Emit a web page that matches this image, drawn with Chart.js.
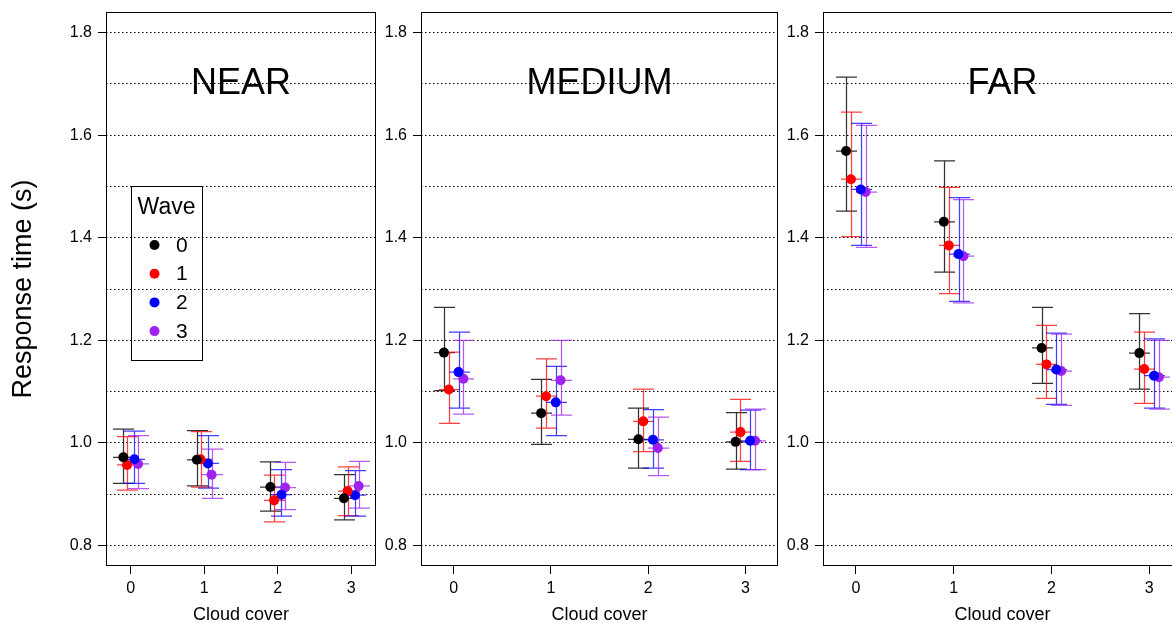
<!DOCTYPE html>
<html>
<head>
<meta charset="utf-8">
<title>Response time by cloud cover</title>
<script src="https://cdn.jsdelivr.net/npm/chart.js@4.4.1/dist/chart.umd.min.js"></script>
<style>
  html, body { margin: 0; padding: 0; background: #fff; overflow: hidden; width: 1172px; height: 623px; }
  canvas { position: absolute; top: 0; }
</style>
</head>
<body>
<canvas id="nearChart" width="381" height="623" style="left:0px"></canvas>
<canvas id="mediumChart" width="405" height="623" style="left:378px"></canvas>
<canvas id="farChart" width="420" height="623" style="left:780px"></canvas>
<script>
// Categories and tick labels
const cloudCover = [0, 1, 2, 3];
const waves = ['0', '1', '2', '3'];
const gridValues = [0.8, 0.9, 1.0, 1.1, 1.2, 1.3, 1.4, 1.5, 1.6, 1.7, 1.8];

// NEAR: rows = wave 0..3, columns = cloud cover 0..3
const nearMean = [
  [0.972, 0.967, 0.914, 0.892],
  [0.957, 0.968, 0.888, 0.906],
  [0.968, 0.960, 0.899, 0.898],
  [0.959, 0.938, 0.913, 0.916],
];
const nearLow = [
  [0.921, 0.916, 0.867, 0.850],
  [0.908, 0.914, 0.846, 0.858],
  [0.921, 0.912, 0.857, 0.857],
  [0.911, 0.892, 0.870, 0.873],
];
const nearHigh = [
  [1.027, 1.024, 0.963, 0.938],
  [1.012, 1.022, 0.937, 0.953],
  [1.023, 1.014, 0.948, 0.946],
  [1.014, 0.988, 0.962, 0.964],
];

// MEDIUM
const mediumMean = [
  [1.176, 1.058, 1.007, 1.002],
  [1.104, 1.091, 1.042, 1.021],
  [1.138, 1.079, 1.006, 1.004],
  [1.125, 1.122, 0.990, 1.004],
];
const mediumLow = [
  [1.102, 0.997, 0.951, 0.949],
  [1.038, 1.029, 0.983, 0.964],
  [1.068, 1.014, 0.951, 0.948],
  [1.056, 1.054, 0.936, 0.948],
];
const mediumHigh = [
  [1.264, 1.124, 1.068, 1.059],
  [1.177, 1.164, 1.105, 1.085],
  [1.216, 1.149, 1.065, 1.064],
  [1.200, 1.200, 1.050, 1.066],
];

// FAR
const farMean = [
  [1.569, 1.431, 1.185, 1.175],
  [1.514, 1.385, 1.153, 1.144],
  [1.494, 1.368, 1.143, 1.131],
  [1.489, 1.364, 1.140, 1.128],
];
const farLow = [
  [1.452, 1.333, 1.116, 1.105],
  [1.402, 1.291, 1.087, 1.077],
  [1.385, 1.276, 1.075, 1.068],
  [1.381, 1.273, 1.073, 1.066],
];
const farHigh = [
  [1.713, 1.550, 1.264, 1.252],
  [1.645, 1.498, 1.229, 1.216],
  [1.623, 1.478, 1.214, 1.203],
  [1.619, 1.474, 1.212, 1.200],
];

// styling
const FONT = '"Liberation Sans", Arial, Helvetica, sans-serif';
const waveColors = ['#000000', '#ff0000', '#0000ff', '#a020f0'];
const barColors = ['rgba(0,0,0,0.8)', 'rgba(255,0,0,0.75)', 'rgba(0,0,255,0.75)', 'rgba(160,32,240,0.75)'];
const waveDodge = [-0.1, -0.05, 0.05, 0.1];
const CAP = 10.5;

Chart.defaults.font.family = FONT;

function isMajor(v) {
  return Math.round(v * 10) % 2 === 0;
}

// error bars with caps and a mid tick, drawn under the points
const errorBarPlugin = {
  id: 'errorBars',
  beforeDatasetsDraw(chart) {
    const ctx = chart.ctx;
    const xs = chart.scales.x;
    const ys = chart.scales.y;
    ctx.save();
    ctx.lineWidth = 1.25;
    chart.data.datasets.forEach((ds) => {
      ctx.strokeStyle = ds.barColor;
      ctx.beginPath();
      ds.data.forEach((p, i) => {
        const x = Math.round(xs.getPixelForValue(p.x)) + 0.5;
        const yLo = ys.getPixelForValue(ds.low[i]);
        const yHi = ys.getPixelForValue(ds.high[i]);
        const yMid = ys.getPixelForValue(p.y);
        ctx.moveTo(x, yLo);
        ctx.lineTo(x, yHi);
        [yLo, yMid, yHi].forEach((y) => {
          ctx.moveTo(x - CAP, y);
          ctx.lineTo(x + CAP, y);
        });
      });
      ctx.stroke();
    });
    ctx.restore();
  },
};

// box, panel title, axis titles and legend
const decorPlugin = {
  id: 'decor',
  afterDraw(chart, args, opts) {
    const ctx = chart.ctx;
    const area = chart.chartArea;
    const ys = chart.scales.y;
    const cx = (area.left + area.right) / 2;
    ctx.save();

    ctx.strokeStyle = '#000';
    ctx.lineWidth = 1;
    const x0 = Math.round(area.left) + 0.5;
    const x1 = Math.round(area.right) - 0.5;
    const y0 = Math.round(area.top) + 0.5;
    const y1 = Math.round(area.bottom) - 0.5;
    ctx.strokeRect(x0, y0, x1 - x0, y1 - y0);

    ctx.fillStyle = '#000';
    ctx.textAlign = 'center';
    ctx.textBaseline = 'middle';
    ctx.font = '36px ' + FONT;
    ctx.fillText(opts.title, cx, ys.getPixelForValue(1.7));

    ctx.font = '18px ' + FONT;
    ctx.fillText('Cloud cover', cx, 615);

    if (opts.yTitle) {
      ctx.save();
      ctx.translate(24, (area.top + area.bottom) / 2);
      ctx.rotate(-Math.PI / 2);
      ctx.font = '27px ' + FONT;
      ctx.fillText('Response time (s)', 0, 0);
      ctx.restore();
    }

    if (opts.legend) {
      const lx = area.left + 25;
      const ly = area.top + 174;
      ctx.strokeRect(Math.round(lx) + 0.5, Math.round(ly) + 0.5, 71, 174);
      ctx.font = '23px ' + FONT;
      ctx.textAlign = 'center';
      ctx.fillText('Wave', lx + 35.5, ly + 22);
      ctx.font = '21px ' + FONT;
      ctx.textAlign = 'left';
      chart.data.datasets.forEach((ds, i) => {
        const yy = ly + 59 + i * 28.7;
        ctx.fillStyle = ds.backgroundColor;
        ctx.beginPath();
        ctx.arc(lx + 23.5, yy, 5, 0, Math.PI * 2);
        ctx.fill();
        ctx.fillStyle = '#000';
        ctx.fillText(ds.label, lx + 45, yy + 1);
      });
    }
    ctx.restore();
  },
};

function makePanel(id, title, mean, low, high, axisWidth, padRight, first) {
  const datasets = waves.map((w, k) => ({
    label: w,
    data: cloudCover.map((c, i) => ({ x: c + waveDodge[k], y: mean[k][i] })),
    low: low[k],
    high: high[k],
    backgroundColor: waveColors[k],
    borderWidth: 0,
    pointRadius: 5,
    barColor: barColors[k],
  }));

  return new Chart(document.getElementById(id), {
    type: 'scatter',
    data: { datasets: datasets },
    options: {
      responsive: false,
      animation: false,
      events: [],
      layout: { padding: { top: 12, right: padRight, bottom: 0, left: 0 } },
      plugins: {
        legend: { display: false },
        tooltip: { enabled: false },
        decor: { title: title, yTitle: first, legend: first },
      },
      scales: {
        x: {
          type: 'linear',
          min: -0.336,
          max: 3.336,
          afterBuildTicks: (s) => { s.ticks = cloudCover.map((v) => ({ value: v })); },
          afterFit: (s) => { s.height = 57; s.paddingLeft = 0; s.paddingRight = 0; },
          ticks: {
            callback: (v) => String(v),
            font: { size: 16 },
            color: '#000',
            padding: 5,
            maxRotation: 0,
            autoSkip: false,
          },
          grid: { drawOnChartArea: false, tickLength: 8, color: '#000', lineWidth: 1 },
          border: { display: false },
        },
        y: {
          type: 'linear',
          min: 0.76,
          max: 1.84,
          afterBuildTicks: (s) => { s.ticks = gridValues.map((v) => ({ value: v })); },
          afterFit: (s) => { s.width = axisWidth; s.paddingTop = 0; s.paddingBottom = 0; },
          ticks: {
            callback: (v) => (isMajor(v) ? v.toFixed(1) : ''),
            font: { size: 16 },
            color: '#000',
            padding: 6,
            autoSkip: false,
          },
          grid: {
            color: '#000',
            lineWidth: 1,
            tickLength: 8,
            tickColor: (c) => (c.tick && isMajor(c.tick.value) ? '#000' : 'rgba(0,0,0,0)'),
            tickBorderDash: [],
          },
          border: { display: false, dash: [1.5, 2.5] },
        },
      },
    },
    plugins: [errorBarPlugin, decorPlugin],
  });
}

makePanel('nearChart', 'NEAR', nearMean, nearLow, nearHigh, 106, 2, true);
makePanel('mediumChart', 'MEDIUM', mediumMean, mediumLow, mediumHigh, 43, 2, false);
makePanel('farChart', 'FAR', farMean, farLow, farHigh, 43, 18, false);
</script>
</body>
</html>
